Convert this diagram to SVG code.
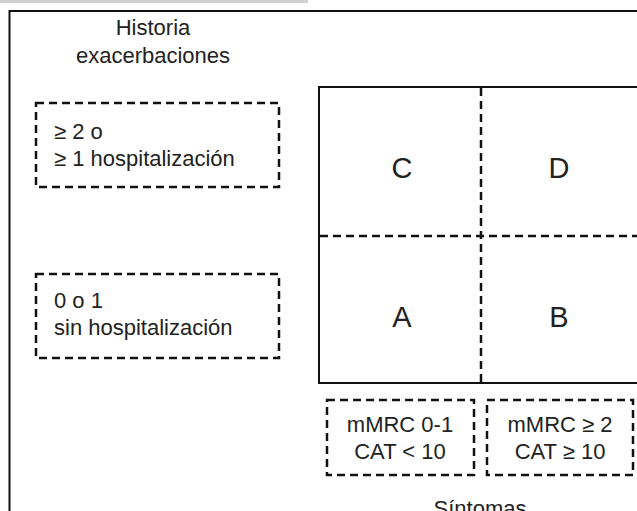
<svg xmlns="http://www.w3.org/2000/svg" width="637" height="511" viewBox="0 0 637 511">
<style>
.t{font-family:"Liberation Sans",Arial,sans-serif;font-size:22px;fill:#222}
.c{text-anchor:middle}
.big{font-size:29px}
.dash{fill:none;stroke:#111;stroke-width:2.5;stroke-dasharray:8 5}
.solid{fill:none;stroke:#111;stroke-width:2}
</style>
<rect x="0" y="0" width="637" height="511" fill="#fff"/>
<rect x="0" y="0" width="308" height="3" fill="#cfcfcf"/>
<rect x="9.5" y="11" width="640" height="520" class="solid"/>
<g id="title-y">
<text class="t c" x="153" y="35">Historia</text>
<text class="t c" x="153" y="63">exacerbaciones</text>
</g>
<g id="box-high">
<rect x="36" y="103" width="243" height="84" class="dash"/>
<text class="t" x="54" y="139">≥ 2 o</text>
<text class="t" x="54" y="166">≥ 1 hospitalización</text>
</g>
<g id="box-low">
<rect x="36" y="274" width="243" height="84" class="dash"/>
<text class="t" x="54" y="308">0 o 1</text>
<text class="t" x="54" y="335">sin hospitalización</text>
</g>
<g id="grid">
<rect x="319" y="87" width="330" height="296" class="solid"/>
</g>
<g id="connectors">
<line x1="481" y1="88" x2="481" y2="382" class="dash" stroke-dasharray="7 5"/>
<line x1="320" y1="236" x2="637" y2="236" class="dash" stroke-dasharray="7 5"/>
</g>
<g id="C"><text class="t c big" x="402" y="178">C</text></g>
<g id="D"><text class="t c big" x="559" y="178">D</text></g>
<g id="A"><text class="t c big" x="402" y="327">A</text></g>
<g id="B"><text class="t c big" x="559" y="327">B</text></g>
<g id="box-s1">
<rect x="327" y="400" width="147" height="75" class="dash"/>
<text class="t c" x="400" y="432">mMRC 0-1</text>
<text class="t c" x="400" y="459">CAT &lt; 10</text>
</g>
<g id="box-s2">
<rect x="487" y="400" width="146" height="75" class="dash"/>
<text class="t c" x="560" y="432">mMRC ≥ 2</text>
<text class="t c" x="560" y="459">CAT ≥ 10</text>
</g>
<g id="title-x">
<text class="t c" x="480" y="516">Síntomas</text>
</g>
</svg>
